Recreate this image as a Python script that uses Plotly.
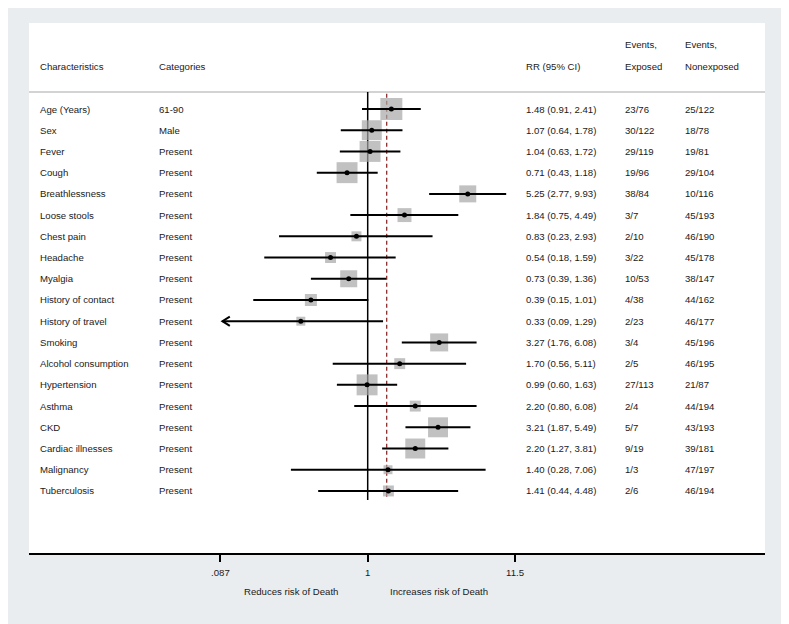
import plotly.graph_objects as go
import math

# ---------------- data ----------------
characteristics = ["Age (Years)", "Sex", "Fever", "Cough", "Breathlessness", "Loose stools",
                   "Chest pain", "Headache", "Myalgia", "History of contact", "History of travel",
                   "Smoking", "Alcohol consumption", "Hypertension", "Asthma", "CKD",
                   "Cardiac illnesses", "Malignancy", "Tuberculosis"]
categories = ["61-90", "Male"] + ["Present"] * 17
rr = [1.48, 1.07, 1.04, 0.71, 5.25, 1.84, 0.83, 0.54, 0.73, 0.39, 0.33, 3.27, 1.70, 0.99, 2.20, 3.21, 2.20, 1.40, 1.41]
ci_low = [0.91, 0.64, 0.63, 0.43, 2.77, 0.75, 0.23, 0.18, 0.39, 0.15, 0.09, 1.76, 0.56, 0.60, 0.80, 1.87, 1.27, 0.28, 0.44]
ci_high = [2.41, 1.78, 1.72, 1.18, 9.93, 4.49, 2.93, 1.59, 1.36, 1.01, 1.29, 6.08, 5.11, 1.63, 6.08, 5.49, 3.81, 7.06, 4.48]
events_exposed = ["23/76", "30/122", "29/119", "19/96", "38/84", "3/7", "2/10", "3/22", "10/53", "4/38",
                  "2/23", "3/4", "2/5", "27/113", "2/4", "5/7", "9/19", "1/3", "2/6"]
events_nonexposed = ["25/122", "18/78", "19/81", "29/104", "10/116", "45/193", "46/190", "45/178", "38/147",
                     "44/162", "46/177", "45/196", "46/195", "21/87", "44/194", "43/193", "39/181", "47/197", "46/194"]
weights = [9.7, 8.0, 8.8, 8.8, 5.8, 3.9, 2.0, 2.4, 5.8, 2.9, 1.6, 6.5, 2.4, 8.8, 2.4, 8.0, 8.0, 1.6, 2.4]
pooled_rr = 1.37
tick_values = [0.087, 1, 11.5]
tick_labels = [".087", "1", "11.5"]
header_cols = ["Characteristics", "Categories", "RR (95% CI)"]

# ---------------- layout helpers ----------------
OFF = 8                      # page offset of the figure (body margin)
W, H = 789 - OFF, 624 - OFF
ML, MR, MT, MB = 29 - OFF, 24, 23 - OFF, 71
PW = W - ML - MR
PH = H - MT - MB
FONT = "Liberation Sans, Arial, sans-serif"
FS = 9.6
TXT = "#1a1a1a"

def px2paper(px_page):
    return (px_page - OFF - ML) / PW

n = len(rr)
rows = list(range(n))

fig = go.Figure()

# weight squares
fig.add_trace(go.Scatter(
    x=rr, y=rows, mode="markers",
    marker=dict(symbol="square", size=[7.06 * math.sqrt(w) for w in weights],
                color="#a6a6a6", line=dict(width=0)),
    hoverinfo="skip", showlegend=False))

# CI lines
cx, cy = [], []
for i in rows:
    cx += [ci_low[i], ci_high[i], None]
    cy += [i, i, None]
fig.add_trace(go.Scatter(x=cx, y=cy, mode="lines", line=dict(color="black", width=2),
                         hoverinfo="skip", showlegend=False))

# arrow heads for CIs reaching the lower display limit
ax, ay = [], []
for i in rows:
    if ci_low[i] < 0.1:
        tip = ci_low[i]
        ax += [tip * 1.13, tip, tip * 1.13, None]
        ay += [i - 0.22, i, i + 0.22, None]
fig.add_trace(go.Scatter(x=ax, y=ay, mode="lines", line=dict(color="black", width=2),
                         hoverinfo="skip", showlegend=False))

# point estimates
fig.add_trace(go.Scatter(x=rr, y=rows, mode="markers",
                         marker=dict(symbol="circle", size=5, color="black"),
                         hoverinfo="skip", showlegend=False))

shapes = []
# header separator line
shapes.append(dict(type="line", xref="paper", yref="y", x0=0, x1=1, y0=-0.80, y1=-0.80,
                   layer="below", line=dict(color="#a8a8a8", width=1.2)))
# null line at 1
shapes.append(dict(type="line", xref="x", yref="y", x0=1, x1=1, y0=-0.80, y1=18.43,
                   layer="below", line=dict(color="black", width=1.5)))
# pooled dashed line
shapes.append(dict(type="line", xref="x", yref="y", x0=pooled_rr, x1=pooled_rr, y0=-0.72, y1=18.3,
                   layer="below", line=dict(color="#8b2c2c", width=1.3, dash="4px,3px")))

annotations = []
def txt(text, xpx, y, yref="y", size=FS):
    annotations.append(dict(text=text, x=px2paper(xpx), xref="paper", y=y, yref=yref,
                            xanchor="left", yanchor="middle", showarrow=False,
                            font=dict(family=FONT, size=size, color=TXT)))

col_x = [38, 157, 524, 622.7, 682.7]
# headers
txt(header_cols[0], col_x[0], -2.01)
txt(header_cols[1], col_x[1], -2.01)
txt(header_cols[2], col_x[2], -2.01)
txt("Events,", col_x[3], -3.02)
txt("Exposed", col_x[3], -2.01)
txt("Events,", col_x[4], -3.02)
txt("Nonexposed", col_x[4], -2.01)

for i in rows:
    txt(characteristics[i], col_x[0], i)
    txt(categories[i], col_x[1], i)
    txt(f"{rr[i]:.2f} ({ci_low[i]:.2f}, {ci_high[i]:.2f})", col_x[2], i)
    txt(events_exposed[i], col_x[3], i)
    txt(events_nonexposed[i], col_x[4], i)

# axis direction labels (page pixel y of 591, plot bottom at page 553)
yl = (553 - 591) / PH
for label, cxp in [("Reduces risk of Death", 291), ("Increases risk of Death", 439)]:
    annotations.append(dict(text=label, x=px2paper(cxp), xref="paper", y=yl, yref="paper",
                            xanchor="center", yanchor="middle", showarrow=False,
                            font=dict(family=FONT, size=FS, color=TXT)))

# axis ranges (page pixel geometry of the reference)
x1px = 367.7
ppu = 138.9
xr = [(29 - x1px) / ppu, (765 - x1px) / ppu]
row0 = 109
rpp = 21.22
yr = [(553 - row0) / rpp, (23 - row0) / rpp]

fig.update_layout(
    width=W, height=H,
    margin=dict(l=ML, r=MR, t=MT, b=MB, pad=0),
    paper_bgcolor="#e9edf0", plot_bgcolor="white",
    showlegend=False,
    shapes=shapes, annotations=annotations,
    xaxis=dict(type="log", range=xr, showgrid=False, zeroline=False,
               showline=True, linecolor="black", linewidth=1.5,
               ticks="outside", ticklen=7, tickwidth=1.5, tickcolor="black",
               ticklabelstandoff=3,
               tickvals=tick_values, ticktext=tick_labels,
               tickfont=dict(family=FONT, size=FS, color=TXT), fixedrange=True),
    yaxis=dict(range=yr, showgrid=False, zeroline=False, showline=False,
               showticklabels=False, ticks="", fixedrange=True),
    font=dict(family=FONT, size=FS, color=TXT),
)

fig.write_html("out.html")
